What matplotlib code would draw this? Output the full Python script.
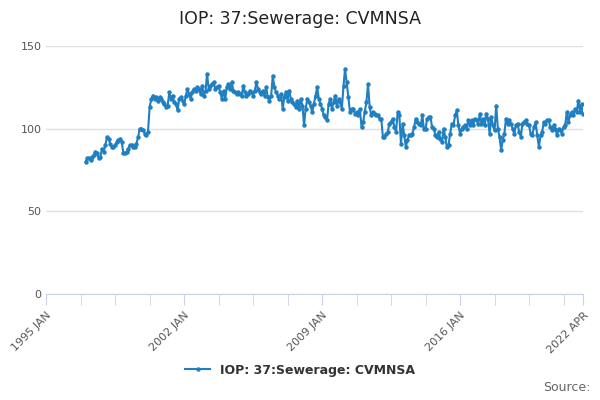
import matplotlib.pyplot as plt
import datetime as dt

title = "IOP: 37:Sewerage: CVMNSA"
series_name = "IOP: 37:Sewerage: CVMNSA"

# monthly values, Jan 1997 .. Apr 2022
values = [
    80, 82, 82, 81, 83, 84, 86, 85, 82, 83, 88, 86,          # 1997
    90, 95, 94, 91, 89, 89, 90, 92, 93, 94, 92, 85,          # 1998
    85, 86, 88, 90, 90, 89, 89, 91, 95, 100, 100, 99,        # 1999
    97, 96, 98, 113, 118, 120, 118, 119, 117, 119, 118, 116, # 2000
    115, 113, 114, 122, 118, 120, 116, 115, 111, 118, 119, 117,  # 2001
    115, 120, 124, 121, 118, 122, 124, 123, 125, 124, 121, 126,  # 2002
    120, 123, 133, 124, 126, 127, 128, 124, 125, 126, 122, 118,  # 2003
    123, 118, 125, 127, 124, 128, 123, 122, 121, 122, 121, 120,  # 2004
    126, 122, 120, 121, 123, 122, 120, 123, 128, 124, 122, 121,  # 2005
    123, 120, 125, 119, 117, 120, 132, 125, 122, 120, 118, 121,  # 2006
    112, 119, 122, 117, 123, 118, 116, 115, 113, 117, 112, 118,  # 2007
    114, 102, 112, 118, 116, 114, 110, 115, 120, 125, 118, 115,  # 2008
    112, 108, 107, 105, 115, 118, 112, 116, 120, 114, 118, 116,  # 2009
    112, 126, 136, 128, 119, 110, 112, 112, 109, 110, 108, 112,  # 2010
    101, 104, 110, 116, 127, 113, 108, 110, 109, 108, 108, 106,  # 2011
    106, 95, 95, 97, 98, 103, 104, 106, 101, 98, 110, 108,       # 2012
    91, 103, 96, 89, 93, 96, 96, 97, 101, 106, 104, 103,         # 2013
    102, 108, 100, 100, 106, 107, 107, 101, 100, 96, 95, 98,      # 2014
    94, 92, 100, 95, 89, 90, 97, 103, 102, 108, 111, 102,        # 2015
    97, 100, 101, 102, 100, 105, 102, 105, 102, 106, 105, 103,   # 2016
    109, 103, 106, 102, 109, 106, 97, 107, 102, 99, 114, 100,    # 2017
    95, 87, 93, 97, 106, 103, 105, 103, 100, 97, 102, 103,       # 2018
    98, 95, 103, 104, 105, 103, 102, 97, 96, 101, 104, 96,       # 2019
    89, 96, 98, 104, 103, 105, 105, 101, 99, 102, 100, 96,       # 2020
    100, 99, 97, 101, 102, 110, 104, 108, 110, 108, 112, 110,    # 2021
    117, 110, 115, 109,                                          # 2022 Jan-Apr
]

dates = [dt.date(1997 + i // 12, i % 12 + 1, 1) for i in range(len(values))]

color = "#1f7fc0"
fig = plt.figure(figsize=(6, 4), dpi=100)
ax = fig.add_axes([0.077, 0.265, 0.895, 0.62])
ax.plot(dates, values, color=color, lw=1.5, marker="o", ms=2.2, label=series_name)

ax.set_xlim(dt.date(1995, 1, 1), dt.date(2022, 4, 1))
ax.set_ylim(0, 150)
ax.set_yticks([0, 50, 100, 150])
ax.tick_params(axis="y", length=0, labelsize=8, colors="#555555")
ax.grid(axis="y", color="#e0e0e0", lw=1)
ax.set_axisbelow(True)

major = [dt.date(1995, 1, 1), dt.date(2002, 1, 1), dt.date(2009, 1, 1), dt.date(2016, 1, 1), dt.date(2022, 4, 1)]
labels = ["1995 JAN", "2002 JAN", "2009 JAN", "2016 JAN", "2022 APR"]
minor = []
for k in range(1, 16):
    m = k * 21
    d = dt.date(1995 + m // 12, m % 12 + 1, 1)
    if d not in major and d < dt.date(2022, 4, 1):
        minor.append(d)
ax.set_xticks(major)
ax.set_xticklabels(labels, rotation=45, ha="right", rotation_mode="anchor", fontsize=8, color="#555555")
ax.set_xticks(minor, minor=True)
ax.tick_params(axis="x", which="both", length=8, color="#c8d4e6")

for s in ["top", "right", "left"]:
    ax.spines[s].set_visible(False)
ax.spines["bottom"].set_color("#c8d4e6")

fig.suptitle(title, fontsize=12.5, color="#222222", y=0.975)
fig.legend(loc="lower center", bbox_to_anchor=(0.5, 0.03), frameon=False,
           prop={"weight": "bold", "size": 9}, labelcolor="#333333")
fig.text(0.985, 0.015, "Source:", ha="right", va="bottom", fontsize=9, color="#666666")
fig.savefig("out.png")
